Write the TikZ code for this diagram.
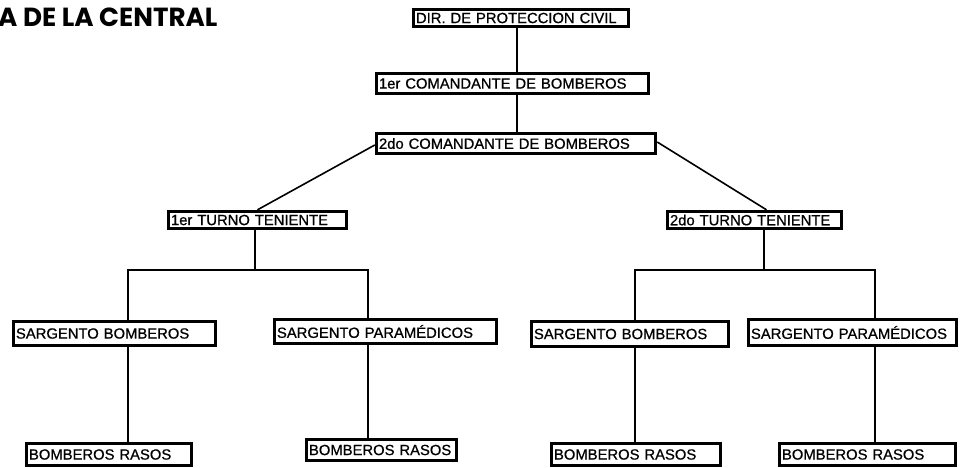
\documentclass[tikz,border=0pt]{standalone}
\usepackage{fontspec}
\setmainfont{Liberation Sans}[FakeBold=0.7]
\newfontfamily\titlefont{Poppins}
\begin{document}
\begin{tikzpicture}[x=1pt,y=-1pt,
  obox/.style={draw, line width=3.4pt, fill=white, inner xsep=2.5pt, inner ysep=0pt,
    align=left, font=\fontsize{14.8}{16}\selectfont},
  link/.style={line width=1.6pt}]
\useasboundingbox (0,0) rectangle (962,467);
\node[anchor=west, inner sep=0pt, font=\titlefont\bfseries\fontsize{26.2}{28}\selectfont] (title) at (-2,17) {A DE LA CENTRAL};
% boxes: text width = W - 2*inner xsep
\node[obox, text width=210pt, minimum height=17pt] (dir) at (521,18) {\mbox{DIR. DE PROTECCION CIVIL}};
\node[obox, text width=267pt, minimum height=20pt] (com1) at (512.5,83.5) {\mbox{1er COMANDANTE DE BOMBEROS}};
\node[obox, text width=274pt, minimum height=20pt] (com2) at (516,143.5) {\mbox{2do COMANDANTE DE BOMBEROS}};
\node[obox, text width=173pt, minimum height=17pt] (t1) at (257.5,220) {\mbox{1er TURNO TENIENTE}};
\node[obox, text width=169pt, minimum height=17pt] (t2) at (754.5,220) {\mbox{2do TURNO TENIENTE}};
\node[obox, text width=197pt, minimum height=24pt] (sb1) at (114.5,333.5) {\mbox{SARGENTO BOMBEROS}};
\node[obox, text width=217pt, minimum height=24pt] (sp1) at (385.5,331.5) {\mbox{SARGENTO PARAMÉDICOS}};
\node[obox, text width=192pt, minimum height=25pt] (sb2) at (630,334) {\mbox{SARGENTO BOMBEROS}};
\node[obox, text width=203pt, minimum height=26pt] (sp2) at (852.5,332.5) {\mbox{SARGENTO PARAMÉDICOS}};
\node[obox, text width=160pt, minimum height=22pt] (br1) at (109,454.5) {\mbox{BOMBEROS RASOS}};
\node[obox, text width=145pt, minimum height=21pt] (br2) at (381.5,450) {\mbox{BOMBEROS RASOS}};
\node[obox, text width=164pt, minimum height=22pt] (br3) at (636,454.5) {\mbox{BOMBEROS RASOS}};
\node[obox, text width=171pt, minimum height=22pt] (br4) at (867.5,454.5) {\mbox{BOMBEROS RASOS}};
% x-guides for connectors
\coordinate (xa) at (517,0);
\coordinate (xl1) at (128,0);
\coordinate (xl2) at (368,0);
\coordinate (xt1) at (255,0);
\coordinate (xr1) at (635,0);
\coordinate (xr2) at (875,0);
\coordinate (xt2) at (764,0);
\coordinate (bar) at (0,270);
\draw[link] (dir.south -| xa) -- (com1.north -| xa);
\draw[link] (com1.south -| xa) -- (com2.north -| xa);
\draw[link] ([yshift=-1.5pt]com2.west) -- (t1.north);
\draw[link] ([yshift=1.5pt]com2.east) -- ([xshift=12pt]t2.north);
% left tree
\draw[link] (t1.south -| xt1) -- (bar -| xt1);
\draw[link] (sb1.north -| xl1) -- (bar -| xl1) -- (bar -| xl2) -- (sp1.north -| xl2);
\draw[link] (sb1.south -| xl1) -- (br1.north -| xl1);
\draw[link] (sp1.south -| xl2) -- (br2.north -| xl2);
% right tree
\draw[link] (t2.south -| xt2) -- (bar -| xt2);
\draw[link] (sb2.north -| xr1) -- (bar -| xr1) -- (bar -| xr2) -- (sp2.north -| xr2);
\draw[link] (sb2.south -| xr1) -- (br3.north -| xr1);
\draw[link] (sp2.south -| xr2) -- (br4.north -| xr2);
\end{tikzpicture}
\end{document}
